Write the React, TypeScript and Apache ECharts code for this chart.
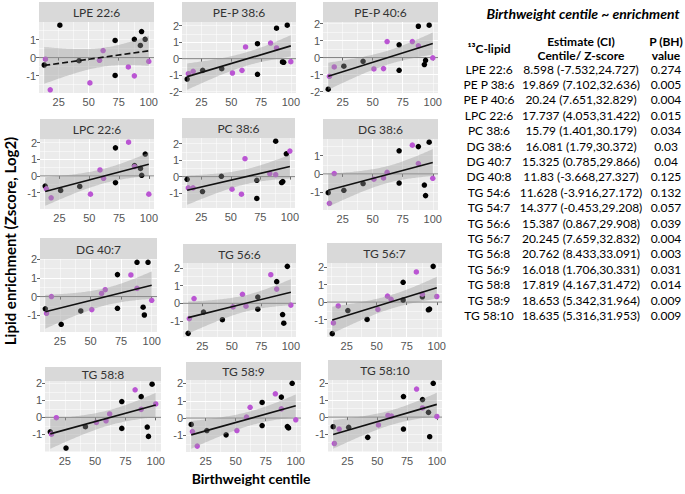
import React, { useEffect, useRef } from "react";
import * as echarts from "echarts";

// ---------- data ----------
const centiles = [13, 14, 18, 26, 42, 51, 59, 62, 72, 72, 83, 88, 88, 93, 94, 97, 100];
const sexGroup = ["b", "p", "p", "b", "b", "p", "p", "p", "b", "b", "p", "b", "p", "b", "b", "b", "p"];

const panelNames = [
  "LPE 22:6", "PE-P 38:6", "PE-P 40:6",
  "LPC 22:6", "PC 38:6", "DG 38:6",
  "DG 40:7", "TG 56:6", "TG 56:7",
  "TG 58:8", "TG 58:9", "TG 58:10",
];

const lpe_22_6 = [-0.41, -0.09, -1.78, 1.79, -0.17, -1.4, -0.15, 0.39, 0.95, -0.99, -0.52, 1.01, -1.01, 0.67, 1.44, 1.01, -0.21];
const pep_38_6 = [-1.24, -0.91, -0.77, -0.71, -0.61, -0.87, -0.71, 0.71, 0.91, -0.95, 0.95, 1.85, 0.65, -0.2, -0.22, 2.03, -0.18];
const pep_40_6 = [-1.86, -1.1, -0.55, -0.51, -0.22, -0.67, -0.65, 0.94, 0.75, -0.75, 0.94, 1.84, 0.69, -0.41, -0.16, 1.9, -0.02];
const lpc_22_6 = [-0.61, -0.77, -1.31, -0.87, -0.63, -1.09, 0.36, -0.14, 1.68, -0.4, 2.02, 0.62, 0.55, 0.45, 0.04, 1.31, -1.09];
const pc_38_6 = [-0.16, -0.68, -0.68, -0.9, 0.02, -0.76, -1.06, 1.08, -0.22, -1.32, 0.18, 2.14, 0.12, -0.36, -0.3, 1.38, 1.54];
const dg_38_6 = [-1.03, -1.61, 0.02, -0.9, -0.53, -0.29, -0.22, 0.09, 1.27, -0.5, 1.58, 1.5, 0.57, -0.61, -1.19, 1.74, -0.24];
const dg_40_7 = [-0.66, -0.9, 0.0, -1.49, -0.77, -0.7, 0.17, 0.37, 1.18, -0.63, 1.16, 1.84, 0.44, -0.57, -0.99, 1.84, -0.2];
const tg_56_6 = [-1.69, -0.86, 0.27, -0.49, -0.92, -0.2, 0.51, -0.16, 0.35, -0.33, 1.61, 1.22, 0.8, -0.63, -1.12, 2.08, -0.1];
const tg_56_7 = [-1.8, -1.19, -0.22, -0.48, -0.99, -0.42, 0.34, 0.16, 1.13, 0.12, 1.72, 0.3, 0.45, -0.44, -0.4, 2.04, 0.32];
const tg_58_8 = [-0.85, -0.99, -0.02, -1.81, -0.55, -0.3, -0.2, 0.2, 0.93, -0.65, 1.62, 1.22, 0.47, -0.57, -1.12, 1.95, 0.79];
const tg_58_9 = [-0.37, -0.78, -1.62, -0.72, -0.97, -0.72, 0.06, 0.62, 0.9, -0.43, 1.4, 1.21, 0.53, -0.49, -0.57, 2.01, -0.1];
const tg_58_10 = [-0.56, -1.55, -0.7, -0.6, -1.19, -0.46, 0.1, 0.06, 1.21, -0.7, 1.65, 1.03, 0.54, 0.28, -1.15, 1.99, 0.04];

const panelValues = [
  lpe_22_6, pep_38_6, pep_40_6,
  lpc_22_6, pc_38_6, dg_38_6,
  dg_40_7, tg_56_6, tg_56_7,
  tg_58_8, tg_58_9, tg_58_10,
];
const lineDashed = [true, false, false, false, false, false, false, false, false, false, false, false];

const xTickValues = [25, 50, 75, 100];
const yTickValues = [
  [-1, 0, 1], [-2, -1, 0, 1, 2], [-2, -1, 0, 1, 2],
  [-1, 0, 1, 2], [-1, 0, 1, 2], [-1, 0, 1],
  [-1, 0, 1, 2], [-1, 0, 1, 2], [-2, -1, 0, 1, 2],
  [-1, 0, 1, 2], [-1, 0, 1, 2], [-1, 0, 1, 2],
];

const tableTitle = "Birthweight centile ~ enrichment";
const tableLipids = ["LPE 22:6", "PE P 38:6", "PE P 40:6", "LPC 22:6", "PC 38:6", "DG 38:6", "DG 40:7", "DG 40:8", "TG 54:6", "TG 54:7", "TG 56:6", "TG 56:7", "TG 56:8", "TG 56:9", "TG 58:8", "TG 58:9", "TG 58:10"];
const tableEstimates = ["8.598 (-7.532,24.727)", "19.869 (7.102,32.636)", "20.24 (7.651,32.829)", "17.737 (4.053,31.422)", "15.79 (1.401,30.179)", "16.081 (1.79,30.372)", "15.325 (0.785,29.866)", "11.83 (-3.668,27.327)", "11.628 (-3.916,27.172)", "14.377 (-0.453,29.208)", "15.387 (0.867,29.908)", "20.245 (7.659,32.832)", "20.762 (8.433,33.091)", "16.018 (1.706,30.331)", "17.819 (4.167,31.472)", "18.653 (5.342,31.964)", "18.635 (5.316,31.953)"];
const tablePValues = ["0.274", "0.005", "0.004", "0.015", "0.034", "0.03", "0.04", "0.125", "0.132", "0.057", "0.039", "0.004", "0.003", "0.031", "0.014", "0.009", "0.009"];

// ---------- layout (pixels) ----------
const layout = [
  { l: 39, r: 154, st: 2, pt: 22, pb: 93 },
  { l: 182, r: 296, st: 2, pt: 22, pb: 93 },
  { l: 323, r: 438, st: 2, pt: 22, pb: 93 },
  { l: 40, r: 154, st: 119, pt: 139, pb: 209 },
  { l: 182, r: 295, st: 118, pt: 138, pb: 208 },
  { l: 323, r: 438, st: 119, pt: 139, pb: 210 },
  { l: 40, r: 157, st: 238, pt: 259, pb: 332 },
  { l: 183, r: 296, st: 244, pt: 263, pb: 337 },
  { l: 327, r: 442, st: 243, pt: 263, pb: 337 },
  { l: 45, r: 161, st: 367, pt: 381, pb: 452 },
  { l: 186, r: 301, st: 362, pt: 380, pb: 452 },
  { l: 328, r: 442, st: 360, pt: 380, pb: 452 },
];

const PURPLE = "#BA55D3";
const T_CRIT = 2.1314; // qt(0.975, df = 15)
const TICK_FONT = "Liberation Sans, Arial, sans-serif";
const TEXT_FONT = "Lato, 'Open Sans', sans-serif";

function linFit(xs: number[], ys: number[]) {
  const n = xs.length;
  const mx = xs.reduce((a, b) => a + b, 0) / n;
  const my = ys.reduce((a, b) => a + b, 0) / n;
  let sxx = 0, sxy = 0;
  for (let i = 0; i < n; i++) {
    sxx += (xs[i] - mx) ** 2;
    sxy += (xs[i] - mx) * (ys[i] - my);
  }
  const b = sxy / sxx;
  const a = my - b * mx;
  let sse = 0;
  for (let i = 0; i < n; i++) sse += (ys[i] - a - b * xs[i]) ** 2;
  const s = Math.sqrt(sse / (n - 2));
  return { a, b, mx, sxx, s, n };
}

function buildOption() {
  const grids: any[] = [];
  const xAxes: any[] = [];
  const yAxes: any[] = [];
  const series: any[] = [];
  const graphics: any[] = [];

  const dxMin = Math.min(...centiles);
  const dxMax = Math.max(...centiles);
  const xPad = (dxMax - dxMin) * 0.05;
  const xMin = dxMin - xPad;
  const xMax = dxMax + xPad;

  panelValues.forEach((ys, i) => {
    const L = layout[i];
    const f = linFit(centiles, ys);
    const band: number[][] = [];
    const N = 80;
    for (let k = 0; k < N; k++) {
      const x = dxMin + ((dxMax - dxMin) * k) / (N - 1);
      const yhat = f.a + f.b * x;
      const se = f.s * Math.sqrt(1 / f.n + (x - f.mx) ** 2 / f.sxx);
      band.push([x, yhat - T_CRIT * se, yhat + T_CRIT * se]);
    }
    const lo = Math.min(...ys, ...band.map((d) => d[1]));
    const hi = Math.max(...ys, ...band.map((d) => d[2]));
    const yPad = (hi - lo) * 0.05;
    const yMin = lo - yPad;
    const yMax = hi + yPad;

    grids.push({
      left: L.l, top: L.pt, width: L.r - L.l, height: L.pb - L.pt,
      show: true, backgroundColor: "#EBEBEB", borderWidth: 0,
      containLabel: false, outerBoundsMode: "none",
    });

    const fmt = (v: number) => (Math.abs(v - Math.round(v)) < 1e-9 ? String(Math.round(v)) : "");

    xAxes.push({
      gridIndex: i, type: "value", min: xMin, max: xMax, minInterval: 25, maxInterval: 25,
      position: "bottom",
      axisLine: { show: false },
      axisTick: { show: true, length: 3, lineStyle: { color: "#666", width: 1 }, customValues: xTickValues },
      axisLabel: { show: true, customValues: xTickValues, formatter: fmt, color: "#555", fontSize: 11, fontFamily: TICK_FONT, margin: 3 },
      splitLine: { show: true, showMinLine: false, showMaxLine: false, lineStyle: { color: "#FFFFFF", width: 1 } },
    });
    xAxes.push({
      gridIndex: i, type: "value", min: xMin, max: xMax, minInterval: 12.5, maxInterval: 12.5,
      position: "top",
      axisLine: { show: false }, axisTick: { show: false }, axisLabel: { show: false },
      splitLine: { show: true, showMinLine: false, showMaxLine: false, lineStyle: { color: "#FFFFFF", width: 0.5 } },
    });
    yAxes.push({
      gridIndex: i, type: "value", min: yMin, max: yMax, minInterval: 1, maxInterval: 1,
      position: "left",
      axisLine: { show: false },
      axisTick: { show: true, length: 3, lineStyle: { color: "#666", width: 1 }, customValues: yTickValues[i] },
      axisLabel: { show: true, customValues: yTickValues[i], formatter: fmt, color: "#555", fontSize: 11, fontFamily: TICK_FONT, margin: 3 },
      splitLine: { show: true, showMinLine: false, showMaxLine: false, lineStyle: { color: "#FFFFFF", width: 1 } },
    });
    yAxes.push({
      gridIndex: i, type: "value", min: yMin, max: yMax, minInterval: 0.5, maxInterval: 0.5,
      position: "right",
      axisLine: { show: false }, axisTick: { show: false }, axisLabel: { show: false },
      splitLine: { show: true, showMinLine: false, showMaxLine: false, lineStyle: { color: "#FFFFFF", width: 0.5 } },
    });

    const xi = 2 * i, yi = 2 * i;

    series.push({
      type: "line", xAxisIndex: xi, yAxisIndex: yi, z: 2, silent: true,
      symbol: "none", data: [[xMin, 0], [xMax, 0]],
      lineStyle: { color: "#808080", width: 1 },
    });
    series.push({
      type: "scatter", xAxisIndex: xi, yAxisIndex: yi, z: 3, silent: true,
      symbolSize: 5.5,
      data: centiles.map((x, j) => ({
        value: [x, ys[j]],
        itemStyle: { color: sexGroup[j] === "p" ? PURPLE : "#000000", opacity: 1 },
      })),
    });
    series.push({
      type: "custom", xAxisIndex: xi, yAxisIndex: yi, z: 4, silent: true,
      data: band,
      encode: { x: 0, y: [1, 2] },
      renderItem: (params: any, api: any) => {
        if (params.dataIndex !== 0) return null;
        const upper = band.map((d) => api.coord([d[0], d[2]]));
        const lower = band.map((d) => api.coord([d[0], d[1]])).reverse();
        return {
          type: "polygon",
          shape: { points: upper.concat(lower) },
          style: { fill: "rgba(153,153,153,0.4)" },
        };
      },
    });
    series.push({
      type: "line", xAxisIndex: xi, yAxisIndex: yi, z: 5, silent: true,
      symbol: "none",
      data: [[dxMin, f.a + f.b * dxMin], [dxMax, f.a + f.b * dxMax]],
      lineStyle: { color: "#111111", width: 1.6, type: lineDashed[i] ? [6, 3] : "solid" },
    });

    graphics.push({
      type: "rect", silent: true,
      shape: { x: L.l, y: L.st, width: L.r - L.l, height: L.pt - L.st },
      style: { fill: "#D9D9D9" },
    });
    graphics.push({
      type: "text", silent: true,
      x: (L.l + L.r) / 2, y: (L.st + L.pt) / 2 + 0.5,
      style: {
        text: panelNames[i], fill: "#333333", font: `12px ${TEXT_FONT}`,
        align: "center", verticalAlign: "middle", textAlign: "center", textVerticalAlign: "middle",
      },
    });
  });

  graphics.push({
    type: "text", silent: true, x: 10, y: 241, rotation: Math.PI / 2,
    style: {
      text: "Lipid enrichment (Zscore, Log2)", fill: "#000", font: `bold 15px ${TEXT_FONT}`,
      align: "center", verticalAlign: "middle", textAlign: "center", textVerticalAlign: "middle",
    },
  });
  graphics.push({
    type: "text", silent: true, x: 251, y: 478,
    style: {
      text: "Birthweight centile", fill: "#000", font: `bold 14px ${TEXT_FONT}`,
      align: "center", verticalAlign: "middle", textAlign: "center", textVerticalAlign: "middle",
    },
  });

  const colName = 489, colEst = 581, colP = 666;
  const t = (text: string, x: number, y: number, font: string) => ({
    type: "text", silent: true, x, y,
    style: { text, fill: "#000", font, align: "center", verticalAlign: "middle", textAlign: "center", textVerticalAlign: "middle" },
  });
  graphics.push(t(tableTitle, 583, 13, `italic bold 14px ${TEXT_FONT}`));
  graphics.push(t("\u00B9\u00B3C-lipid", colName, 48, `bold 12px ${TEXT_FONT}`));
  graphics.push(t("Estimate (CI)", colEst, 41, `bold 12px ${TEXT_FONT}`));
  graphics.push(t("Centile/ Z-score", colEst, 55, `bold 12px ${TEXT_FONT}`));
  graphics.push(t("P (BH)", colP, 41, `bold 12px ${TEXT_FONT}`));
  graphics.push(t("value", colP, 55, `bold 12px ${TEXT_FONT}`));
  tableLipids.forEach((name, r) => {
    const y = 69 + r * 15.4;
    graphics.push(t(name, colName, y, `12px ${TEXT_FONT}`));
    graphics.push(t(tableEstimates[r], colEst, y, `12px ${TEXT_FONT}`));
    graphics.push(t(tablePValues[r], colP, y, `12px ${TEXT_FONT}`));
  });

  return {
    animation: false,
    backgroundColor: "#FFFFFF",
    grid: grids,
    xAxis: xAxes,
    yAxis: yAxes,
    series,
    graphic: { elements: graphics },
  };
}

export default function App() {
  const ref = useRef<HTMLDivElement>(null);
  useEffect(() => {
    if (!ref.current) return;
    const chart = echarts.init(ref.current, null, { renderer: "svg" });
    chart.setOption(buildOption() as any);
    return () => chart.dispose();
  }, []);
  return (
    <div
      ref={ref}
      style={{ position: "fixed", left: 0, top: 0, width: 685, height: 494, background: "#fff" }}
    />
  );
}
